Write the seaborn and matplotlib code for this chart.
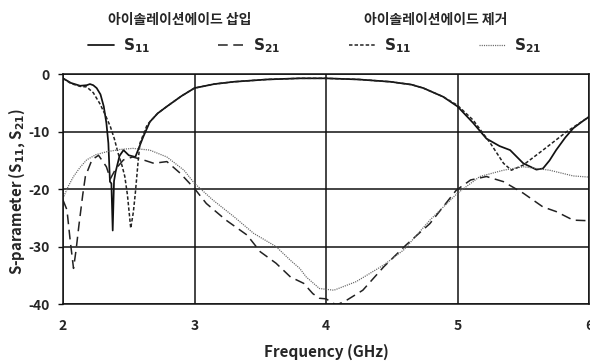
import matplotlib
matplotlib.use("Agg")
import matplotlib.pyplot as plt
import seaborn as sns
import pandas as pd

# ---- data ----
f_s11_ins = [2.0, 2.06, 2.13, 2.18, 2.205, 2.23, 2.256, 2.285, 2.31, 2.33, 2.345, 2.357, 2.368, 2.378,
             2.388, 2.40, 2.43, 2.46, 2.50, 2.55, 2.61, 2.66, 2.72, 2.79, 2.9, 3.0, 3.15, 3.3, 3.55,
             3.8, 4.0, 4.25, 4.49, 4.65, 4.74, 4.89, 5.0, 5.12, 5.22, 5.32, 5.40, 5.50, 5.60, 5.65,
             5.70, 5.75, 5.82, 5.88, 5.95, 6.0]
db_s11_ins = [-0.7, -1.5, -2.0, -1.9, -1.7, -1.9, -2.4, -3.5, -5.6, -8.5, -12.0, -18.7, -19.0, -27.2,
              -18.6, -17.0, -14.2, -13.2, -14.1, -14.4, -10.9, -8.3, -6.8, -5.6, -3.8, -2.4, -1.7, -1.3, -0.9,
              -0.7, -0.7, -0.9, -1.3, -1.8, -2.4, -3.9, -5.6, -8.5, -11.2, -12.5, -13.2, -15.5, -16.6, -16.4,
              -15.0, -13.2, -11.0, -9.4, -8.2, -7.4]

f_s21_ins = [2.0, 2.03, 2.055, 2.08, 2.10, 2.12, 2.15, 2.17, 2.22, 2.27, 2.33, 2.36, 2.40, 2.46, 2.53,
             2.61, 2.69, 2.79, 2.89, 3.0, 3.09, 3.24, 3.40, 3.50, 3.62, 3.73, 3.83, 3.90, 3.95, 4.0,
             4.08, 4.16, 4.28, 4.44, 4.61, 4.79, 4.99, 5.10, 5.22, 5.35, 5.50, 5.65, 5.75, 5.88, 6.0]
db_s21_ins = [-21.9, -23.6, -29.0, -33.8, -30.5, -26.5, -21.0, -17.8, -14.9, -14.1, -16.1, -18.2, -16.5,
              -14.9, -14.4, -14.9, -15.5, -15.2, -17.2, -19.9, -22.5, -25.4, -28.0, -30.9, -32.9, -35.3,
              -36.4, -38.2, -39.0, -39.1, -40.2, -39.3, -37.6, -33.5, -29.7, -26.0, -20.2, -18.4, -17.8,
              -18.7, -20.7, -23.1, -23.9, -25.4, -25.5]

f_s11_rem = [2.0, 2.06, 2.13, 2.18, 2.23, 2.28, 2.32, 2.36, 2.39, 2.42, 2.45, 2.47, 2.49, 2.515, 2.535,
             2.55, 2.57, 2.585, 2.64, 2.72, 2.79, 2.9, 3.0, 3.15, 3.3, 3.55, 3.8, 4.0, 4.25, 4.49,
             4.65, 4.74, 4.89, 5.0, 5.12, 5.25, 5.35, 5.41, 5.50, 5.65, 5.83, 6.0]
db_s11_rem = [-0.7, -1.6, -2.1, -2.2, -3.2, -5.1, -7.0, -9.1, -11.2, -13.8, -16.0, -17.8, -21.0, -26.8,
              -24.0, -20.7, -15.5, -12.0, -8.8, -6.8, -5.6, -3.8, -2.4, -1.7, -1.3, -0.9, -0.7, -0.7,
              -0.9, -1.3, -1.8, -2.4, -3.9, -5.4, -8.0, -12.0, -15.5, -16.7, -15.8, -13.2, -10.0, -7.4]

f_s21_rem = [2.0, 2.04, 2.08, 2.13, 2.18, 2.25, 2.33, 2.43, 2.53, 2.66, 2.79, 2.92, 3.0, 3.14, 3.30,
             3.45, 3.62, 3.73, 3.80, 3.85, 3.95, 4.06, 4.23, 4.44, 4.59, 4.79, 5.0, 5.17, 5.35, 5.50,
             5.70, 5.88, 6.0]
db_s21_rem = [-21.6, -19.5, -17.8, -16.2, -14.9, -14.0, -13.5, -13.1, -12.9, -13.2, -14.4, -16.7, -19.0,
              -21.9, -24.8, -27.7, -30.0, -32.4, -33.8, -35.3, -37.3, -37.6, -36.1, -33.2, -30.6, -25.4,
              -20.7, -17.8, -16.7, -16.1, -16.7, -17.7, -17.9]

x_ticks = [2, 3, 4, 5, 6]
y_ticks = [0, -10, -20, -30, -40]
group_titles = ["아이솔레이션에이드 삽입", "아이솔레이션에이드 제거"]
series_labels = [r"$\mathbf{S}_{\mathbf{11}}$", r"$\mathbf{S}_{\mathbf{21}}$",
                 r"$\mathbf{S}_{\mathbf{11}}$", r"$\mathbf{S}_{\mathbf{21}}$"]

# ---- style ----
sns.set_theme(style="white")
plt.rcParams["font.family"] = ["Noto Sans CJK KR", "DejaVu Sans"]
plt.rcParams["lines.scale_dashes"] = False
plt.rcParams["mathtext.fontset"] = "dejavusans"

fig = plt.figure(figsize=(5.9, 3.64), dpi=100)
ax = fig.add_axes([63 / 590, 1 - 304 / 364, (589 - 63) / 590, (304 - 74.3) / 364])

series = [
    (f_s11_ins, db_s11_ins, dict(linestyle="-", linewidth=1.25, color="#111111")),
    (f_s21_ins, db_s21_ins, dict(linestyle=(0, (7, 4)), linewidth=1.1, color="#222222")),
    (f_s11_rem, db_s11_rem, dict(linestyle=(0, (2.5, 1.5)), linewidth=1.1, color="#222222")),
    (f_s21_rem, db_s21_rem, dict(linestyle=(0, (0.8, 0.8)), linewidth=0.9, color="#666666")),
]
for fx, dy, kw in series:
    df = pd.DataFrame({"f": fx, "db": dy})
    sns.lineplot(data=df, x="f", y="db", ax=ax, legend=False, **kw)

ax.set_xlim(2, 6)
ax.set_ylim(-40, 0)
ax.set_xticks(x_ticks)
ax.set_yticks(y_ticks)
ax.set_xticklabels([str(t) for t in x_ticks], fontweight="bold", fontsize=10)
ax.set_yticklabels([str(t) for t in y_ticks], fontweight="bold", fontsize=10)
ax.tick_params(axis="x", length=0, pad=11)
ax.tick_params(axis="y", length=3.5, width=1.0, color="#111111", pad=6, direction="out", left=True)
ax.grid(True, color="#111111", linewidth=1.1)
for s in ax.spines.values():
    s.set_visible(True)
    s.set_color("#111111")
    s.set_linewidth(1.1)
ax.set_axisbelow(True)

ax.set_xlabel("Frequency (GHz)", fontweight="bold", fontsize=11)
ax.xaxis.set_label_coords(0.5, -0.175)
ax.set_ylabel(r"S-parameter (S$_{\mathbf{11}}$, S$_{\mathbf{21}}$)", fontweight="bold", fontsize=10.8)
ax.yaxis.set_label_coords(-0.068, 0.49)

# group titles
fig.text(180 / 590, 1 - 19.5 / 364, group_titles[0], ha="center", va="center",
         fontsize=10, fontweight="bold")
fig.text(436 / 590, 1 - 19.5 / 364, group_titles[1], ha="center", va="center",
         fontsize=10, fontweight="bold")

leg = fig.legend(ax.lines[:4], series_labels, ncol=4, loc="center left",
                 bbox_to_anchor=(88 / 590, 1 - 46 / 364), frameon=False,
                 fontsize=11, handlelength=1.7, handletextpad=0.6, columnspacing=4.45,
                 borderpad=0, borderaxespad=0)

fig.savefig("out.png", dpi=100)
